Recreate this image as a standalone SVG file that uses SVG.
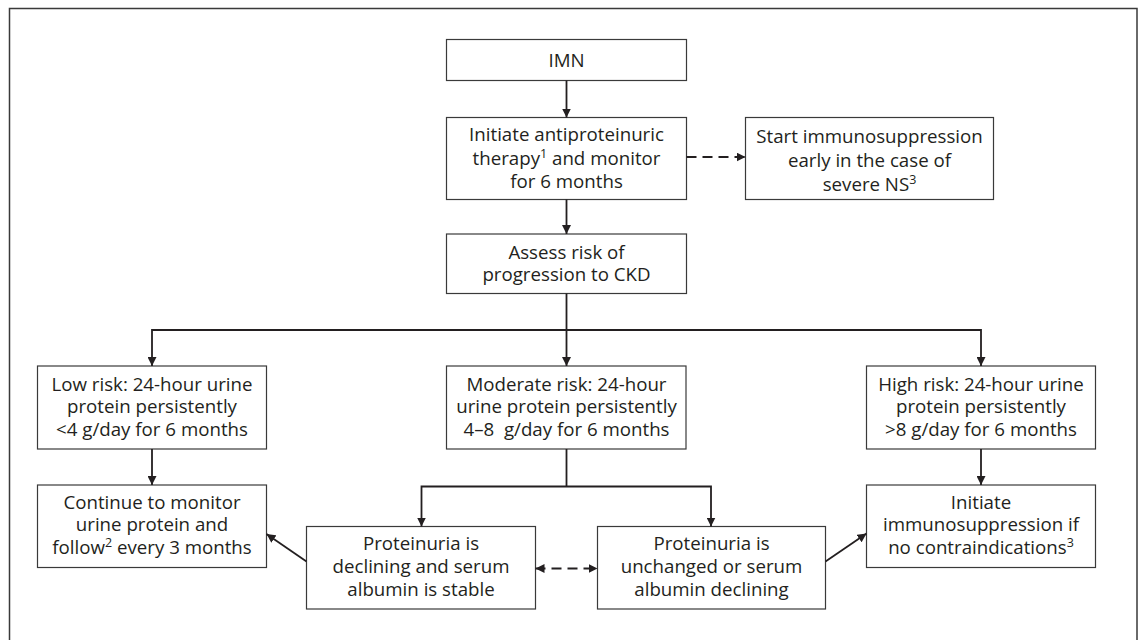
<svg xmlns="http://www.w3.org/2000/svg" width="1143" height="640" viewBox="0 0 1143 640">
<defs>
<style>
.box{fill:#fff;stroke:#3a3a3a;stroke-width:1.2}
.t{font-family:"Open Sans","Noto Sans",sans-serif;font-size:18.7px;fill:#231f20;text-anchor:middle}
.sup{font-size:12.5px}
.ln{fill:none;stroke:#231f20;stroke-width:1.8}
.ds{fill:none;stroke:#231f20;stroke-width:1.8;stroke-dasharray:10,6}
</style>
<marker id="ah" viewBox="0 0 10 10" refX="10" refY="5" markerWidth="9" markerHeight="9" markerUnits="userSpaceOnUse" orient="auto-start-reverse">
<path d="M0,0 L10,5 L0,10 z" fill="#231f20"/>
</marker>
</defs>
<rect x="0" y="0" width="1143" height="640" fill="#fff"/>
<path d="M9.5,645 V8.5 H1137 V645" fill="none" stroke="#3a3a3a" stroke-width="1.5"/>

<g id="n-imn"><rect class="box" x="446.5" y="39.5" width="240" height="41"/>
<text class="t" x="566.5" y="66.5">IMN</text></g>

<g id="n-initiate"><rect class="box" x="446.5" y="117.5" width="240" height="82"/>
<text class="t" x="566.5" y="140.5">Initiate antiproteinuric</text>
<text class="t" x="566.5" y="164.5">therapy<tspan class="sup" dy="-7">1</tspan><tspan dy="7"> and monitor</tspan></text>
<text class="t" x="566.5" y="188">for 6 months</text></g>

<g id="n-start"><rect class="box" x="745.5" y="117.5" width="248" height="82"/>
<text class="t" x="869.5" y="143">Start immunosuppression</text>
<text class="t" x="869.5" y="167">early in the case of</text>
<text class="t" x="869.5" y="191">severe NS<tspan class="sup" dy="-7">3</tspan></text></g>

<g id="n-assess"><rect class="box" x="446.5" y="234" width="240" height="59.5"/>
<text class="t" x="566.5" y="258.5">Assess risk of</text>
<text class="t" x="566.5" y="281">progression to CKD</text></g>

<g id="n-low"><rect class="box" x="37.5" y="366" width="229" height="83"/>
<text class="t" x="152" y="390.5">Low risk: 24-hour urine</text>
<text class="t" x="152" y="413">protein persistently</text>
<text class="t" x="152" y="435.5">&lt;4 g/day for 6 months</text></g>

<g id="n-moderate"><rect class="box" x="446.5" y="366" width="239.5" height="83"/>
<text class="t" x="566.5" y="390.5">Moderate risk: 24-hour</text>
<text class="t" x="566.5" y="413">urine protein persistently</text>
<text class="t" x="566.5" y="435.5" xml:space="preserve">4–8  g/day for 6 months</text></g>

<g id="n-high"><rect class="box" x="866.5" y="366" width="229" height="83"/>
<text class="t" x="981" y="390.5">High risk: 24-hour urine</text>
<text class="t" x="981" y="413">protein persistently</text>
<text class="t" x="981" y="435.5">&gt;8 g/day for 6 months</text></g>

<g id="n-continue"><rect class="box" x="37.5" y="485" width="229" height="82.5"/>
<text class="t" x="152" y="508.5">Continue to monitor</text>
<text class="t" x="152" y="531">urine protein and</text>
<text class="t" x="152" y="553.5">follow<tspan class="sup" dy="-7">2</tspan><tspan dy="7"> every 3 months</tspan></text></g>

<g id="n-immuno"><rect class="box" x="866.5" y="485" width="229" height="82.5"/>
<text class="t" x="981" y="508.5">Initiate</text>
<text class="t" x="981" y="531">immunosuppression if</text>
<text class="t" x="981" y="553.5">no contraindications<tspan class="sup" dy="-7">3</tspan></text></g>

<g id="n-declining"><rect class="box" x="306.5" y="526.5" width="229" height="82.5"/>
<text class="t" x="421" y="550">Proteinuria is</text>
<text class="t" x="421" y="573">declining and serum</text>
<text class="t" x="421" y="595.5">albumin is stable</text></g>

<g id="n-unchanged"><rect class="box" x="597.5" y="526.5" width="228" height="82.5"/>
<text class="t" x="711.5" y="550">Proteinuria is</text>
<text class="t" x="711.5" y="573">unchanged or serum</text>
<text class="t" x="711.5" y="595.5">albumin declining</text></g>

<g id="connectors">
<path class="ln" d="M566.5,80.5 V117.5" marker-end="url(#ah)"/>
<path class="ds" d="M686.5,157 H745.5" marker-end="url(#ah)"/>
<path class="ln" d="M566.5,199.5 V234" marker-end="url(#ah)"/>
<path class="ln" d="M566.5,293.5 V366" marker-end="url(#ah)"/>
<path class="ln" d="M152,366 V330 H981 V366" marker-start="url(#ah)" marker-end="url(#ah)"/>
<path class="ln" d="M152,449 V485" marker-end="url(#ah)"/>
<path class="ln" d="M981,449 V485" marker-end="url(#ah)"/>
<path class="ln" d="M566.5,449 V486.5"/>
<path class="ln" d="M421.5,526.5 V486.5 H711 V526.5" marker-start="url(#ah)" marker-end="url(#ah)"/>
<path class="ds" d="M535.5,568.5 H597.5" marker-start="url(#ah)" marker-end="url(#ah)"/>
<path class="ln" d="M306.5,561.5 L266.5,534" marker-end="url(#ah)"/>
<path class="ln" d="M825.5,561.5 L866.5,533.5" marker-end="url(#ah)"/>
</g>
</svg>
